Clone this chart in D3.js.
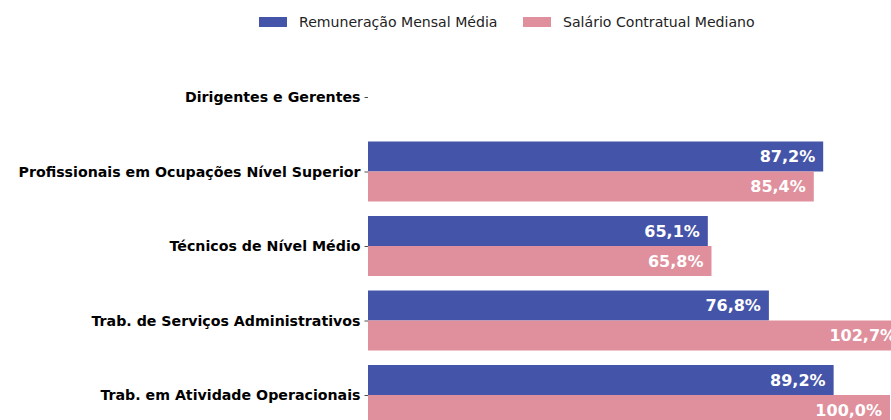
<!DOCTYPE html>
<html>
<head>
<meta charset="utf-8">
<script src="https://cdn.jsdelivr.net/npm/d3@7"></script>
<style>
  body { margin: 0; background: #fff; }
  svg { display: block; font-family: "DejaVu Sans", sans-serif; }
</style>
</head>
<body>
<div id="plot"></div>
<script>
const categories = [
  "Dirigentes e Gerentes",
  "Profissionais em Ocupações Nível Superior",
  "Técnicos de Nível Médio",
  "Trab. de Serviços Administrativos",
  "Trab. em Atividade Operacionais"
];
const seriesNames = ["Remuneração Mensal Média", "Salário Contratual Mediano"];
const remuneracao = [null, 87.2, 65.1, 76.8, 89.2];
const salario = [null, 85.4, 65.8, 102.7, 100.0];
const colors = ["#4454a8", "#e08f9c"];

const width = 891, height = 420;

const svg = d3.select("#plot").append("svg")
  .attr("width", width)
  .attr("height", height);

const x = d3.scaleLinear().domain([0, 100]).range([368, 890]);
const y = d3.scalePoint().domain(categories).range([97, 395]);
const sub = d3.scaleBand().domain(seriesNames).range([-30, 30]);

const rows = [];
categories.forEach((c, i) => {
  [remuneracao[i], salario[i]].forEach((v, j) => {
    if (v != null) rows.push({ cat: c, series: seriesNames[j], value: v, col: colors[j] });
  });
});

// axis (ticks only, no spine)
const yAxis = svg.append("g")
  .attr("transform", `translate(${x(0)},0)`)
  .call(d3.axisLeft(y).tickSize(3.5).tickPadding(4));
yAxis.select(".domain").remove();
yAxis.selectAll("line").attr("stroke", "#222").attr("stroke-width", 0.8);
yAxis.selectAll("text")
  .attr("fill", "#000")
  .style("font-family", "DejaVu Sans")
  .style("font-weight", "bold")
  .style("font-size", "14.2px");

const bars = svg.append("g");
bars.selectAll("rect")
  .data(rows)
  .enter()
  .append("rect")
  .attr("x", x(0))
  .attr("y", d => y(d.cat) + sub(d.series))
  .attr("width", d => x(d.value) - x(0))
  .attr("height", sub.bandwidth())
  .attr("fill", d => d.col);

bars.selectAll("text")
  .data(rows)
  .enter()
  .append("text")
  .attr("x", d => x(d.value) - 8)
  .attr("y", d => y(d.cat) + sub(d.series) + sub.bandwidth() / 2)
  .attr("dy", "0.35em")
  .attr("text-anchor", "end")
  .attr("fill", "#fff")
  .style("font-weight", "bold")
  .style("font-size", "16px")
  .text(d => d.value.toFixed(1).replace(".", ",") + "%");

// legend
const legendX = [259, 523];
const legend = svg.append("g");
seriesNames.forEach((s, i) => {
  const g = legend.append("g").attr("transform", `translate(${legendX[i]},17)`);
  g.append("rect").attr("width", 28).attr("height", 10).attr("fill", colors[i]);
  g.append("text")
    .attr("x", 40).attr("y", 5).attr("dy", "0.35em")
    .attr("fill", "#222")
    .style("font-size", "14.1px")
    .text(s);
});
</script>
</body>
</html>
